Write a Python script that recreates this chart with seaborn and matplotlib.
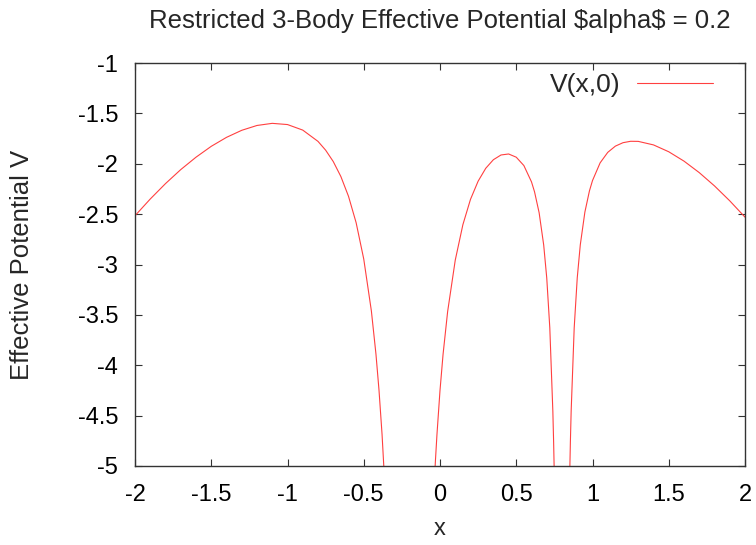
import pandas as pd
import matplotlib
matplotlib.use("Agg")
import matplotlib.pyplot as plt
import seaborn as sns

# values, one list per branch of the curve
x_left = [-2.0, -1.9, -1.8, -1.7, -1.6, -1.5, -1.4, -1.3, -1.2, -1.1, -1.0,
          -0.9, -0.8, -0.75, -0.7, -0.65, -0.6, -0.55, -0.5, -0.45, -0.42,
          -0.4, -0.38, -0.36]
v_left = [-2.516, -2.350, -2.197, -2.058, -1.935, -1.827, -1.738, -1.668,
          -1.620, -1.599, -1.611, -1.666, -1.778, -1.865, -1.978, -2.127,
          -2.323, -2.585, -2.946, -3.461, -3.889, -4.247, -4.686, -5.237]

x_mid = [-0.04, -0.03, -0.02, 0.0, 0.02, 0.05, 0.1, 0.15, 0.2, 0.25, 0.3,
         0.35, 0.4, 0.45, 0.5, 0.55, 0.6, 0.62, 0.65, 0.68, 0.7, 0.72,
         0.74, 0.745, 0.75]
v_mid = [-5.239, -4.947, -4.689, -4.250, -3.893, -3.468, -2.957, -2.605,
         -2.353, -2.173, -2.045, -1.960, -1.913, -1.903, -1.935, -2.018,
         -2.180, -2.279, -2.486, -2.807, -3.134, -3.629, -4.458, -4.760,
         -5.123]

x_right = [0.85, 0.855, 0.86, 0.88, 0.9, 0.92, 0.95, 0.98, 1.0, 1.05, 1.1,
           1.15, 1.2, 1.25, 1.3, 1.4, 1.5, 1.6, 1.7, 1.8, 1.9, 2.0]
v_right = [-5.123, -4.760, -4.458, -3.628, -3.132, -2.804, -2.480, -2.269,
           -2.167, -1.991, -1.887, -1.825, -1.791, -1.777, -1.778, -1.813,
           -1.881, -1.974, -2.088, -2.220, -2.368, -2.530]

x_ticks = [-2, -1.5, -1, -0.5, 0, 0.5, 1, 1.5, 2]
y_ticks = [-1, -1.5, -2, -2.5, -3, -3.5, -4, -4.5, -5]

sns.set_style("ticks")
plt.rcParams['font.family'] = ['Liberation Sans', 'DejaVu Sans']

fig = plt.figure(figsize=(7.56, 5.45), dpi=100)
ax = fig.add_axes([135/756, 1 - 466/545, 610/756, 403/545])

branches = [(x_left, v_left), (x_mid, v_mid), (x_right, v_right)]
for i, (xs, vs) in enumerate(branches):
    df = pd.DataFrame({"x": xs, "V": vs})
    sns.lineplot(data=df, x="x", y="V", ax=ax, color="#ff4040", lw=0.8,
                 estimator=None, sort=False,
                 label="V(x,0)" if i == 0 else None)

ax.set_xlim(-2, 2)
ax.set_ylim(-5, -1)
ax.set_xticks(x_ticks)
ax.set_xticklabels([f"{t:g}" for t in x_ticks])
ax.set_yticks(y_ticks)
ax.set_yticklabels([f"{t:g}" for t in y_ticks])
ax.tick_params(direction="in", length=5, width=0.8, labelsize=17,
               top=True, right=True, colors="#333333", labelcolor="black")
ax.tick_params(axis="x", pad=13)
ax.tick_params(axis="y", pad=12)
for s in ax.spines.values():
    s.set_linewidth(1.0)
    s.set_color("#333333")

fig.text(440/756, 1 - 21/545,
         "Restricted 3-Body Effective Potential \\$alpha\\$ = 0.2",
         fontsize=18.5, ha="center", va="center")
ax.set_xlabel("x", fontsize=17)
ax.xaxis.set_label_coords(0.5, -0.13)
ax.set_ylabel("Effective Potential V", fontsize=18.5)
ax.yaxis.set_label_coords(-0.165, 0.5)

ax.legend(loc="upper right", frameon=False, fontsize=19, markerfirst=False,
          handlelength=2.9, handletextpad=0.6, borderpad=0, borderaxespad=0,
          bbox_to_anchor=(0.948, 0.975))

plt.savefig("out.png", dpi=100)
